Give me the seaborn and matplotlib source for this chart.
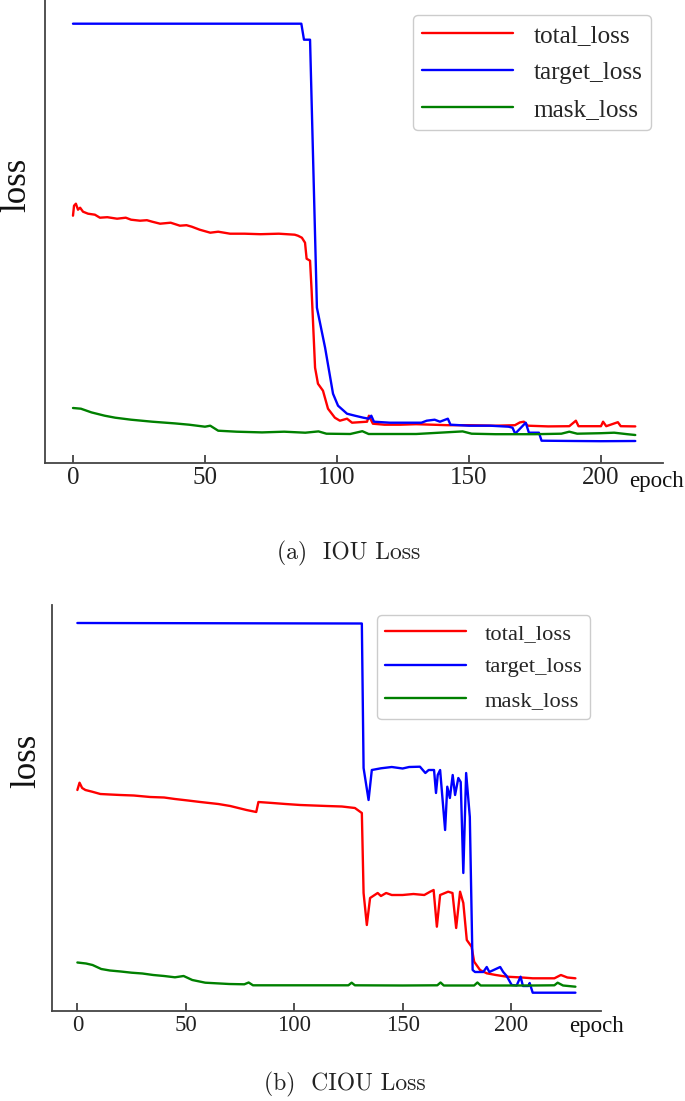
import matplotlib
matplotlib.use("Agg")
import matplotlib.pyplot as plt
import seaborn as sns
import pandas as pd

# ---------------- data: (a) IOU Loss ----------------
iou_target_epoch = [0, 86.5, 87.5, 89.8, 92.4, 95.5, 98.5, 100.4, 103.8, 106.8, 110, 112, 113, 114, 120, 126,
                    132, 134, 137, 139, 142, 143, 150, 158, 165, 166.5, 167.5, 171.5, 172.7, 176.5, 177.5,
                    190, 200, 213]
iou_target_loss = [4.39, 4.39, 4.23, 4.23, 1.55, 1.15, 0.69, 0.57, 0.49, 0.47, 0.45, 0.44, 0.47, 0.41, 0.40, 0.40,
                   0.40, 0.42, 0.43, 0.41, 0.44, 0.38, 0.37, 0.37, 0.36, 0.35, 0.29, 0.40, 0.30, 0.30, 0.22,
                   0.217, 0.215, 0.217]

iou_total_epoch = [0, 0.4, 1.1, 1.9, 2.7, 3.8, 5.7, 8.3, 10.2, 13, 16.7, 20, 22, 25.4, 28, 30, 33, 37, 40.5, 43,
                   45, 48, 52, 55, 59.5, 65, 71, 78, 84, 85.2, 86.7, 87.9, 88.5, 89.8, 90.4, 91.7, 92.8, 94.7,
                   96.6, 99.2, 101.1, 103.8, 105.7, 111.4, 112.1, 113.6, 118, 124, 130, 136, 142, 150, 160,
                   167.4, 169.3, 170.8, 172.3, 180, 188, 190.5, 191.5, 200, 200.8, 202, 206.4, 207.5, 213]
iou_total_loss = [2.47, 2.57, 2.59, 2.53, 2.55, 2.51, 2.49, 2.48, 2.45, 2.455, 2.44, 2.45, 2.43, 2.42, 2.425,
                  2.41, 2.39, 2.40, 2.37, 2.375, 2.36, 2.33, 2.30, 2.31, 2.29, 2.29, 2.285, 2.29, 2.28, 2.27,
                  2.25, 2.20, 2.04, 2.02, 1.72, 0.95, 0.79, 0.72, 0.54, 0.45, 0.42, 0.44, 0.40, 0.41, 0.47,
                  0.39, 0.38, 0.38, 0.385, 0.38, 0.375, 0.375, 0.37, 0.375, 0.403, 0.41, 0.37, 0.363, 0.365,
                  0.42, 0.365, 0.365, 0.41, 0.365, 0.405, 0.365, 0.363]

iou_mask_epoch = [0, 3, 7, 12, 16, 22, 26, 30, 38.6, 44, 50, 52, 55, 62, 71.6, 80, 88, 93, 96, 105, 109.6, 112,
                  130, 147.6, 151, 160, 175, 185, 188, 191, 200, 205, 210, 213]
iou_mask_loss = [0.547, 0.54, 0.503, 0.47, 0.45, 0.43, 0.42, 0.41, 0.393, 0.38, 0.36, 0.37, 0.32, 0.31, 0.303,
                 0.31, 0.30, 0.313, 0.29, 0.287, 0.315, 0.287, 0.287, 0.313, 0.29, 0.285, 0.285, 0.29, 0.31,
                 0.29, 0.295, 0.30, 0.285, 0.277]

# ---------------- data: (b) CIOU Loss ----------------
ciou_target_epoch = [0, 131.2, 132, 134.3, 135.8, 140, 145, 150, 153, 158, 160.5, 162, 164.5, 165.4, 166.2, 167.3,
                     169.6, 170.6, 171.8, 173.1, 174.2, 175.7, 176.8, 178, 179.3, 181, 182.3, 183.4, 187.2,
                     188.8, 190, 195, 196.4, 198, 200.3, 202.6, 204.4, 205.5, 208, 208.6, 210, 229.7]
ciou_target_loss = [3.88, 3.875, 2.43, 2.11, 2.41, 2.427, 2.44, 2.425, 2.44, 2.443, 2.38, 2.41, 2.41, 2.18, 2.36,
                    2.41, 1.81, 2.243, 2.13, 2.36, 2.16, 2.33, 2.29, 1.38, 2.38, 1.94, 0.41, 0.39, 0.39,
                    0.44, 0.39, 0.44, 0.39, 0.35, 0.26, 0.255, 0.343, 0.25, 0.25, 0.28, 0.183, 0.183]

ciou_total_epoch = [0, 1, 2.2, 3.7, 6.8, 10.6, 15, 19.8, 26, 33.6, 40, 45, 51, 56.7, 65, 70.5, 78, 82.5, 83.5,
                    90, 96, 102.8, 115, 122, 128, 131.2, 132, 133.5, 135, 138.5, 140, 142.4, 145, 150, 155,
                    160, 162.7, 164.3, 165.8, 167.3, 171, 173, 174.7, 176.5, 178, 179.6, 181.8, 183, 185.7,
                    188.8, 193, 198, 205, 210, 220, 223, 226, 229.7]
ciou_total_loss = [2.21, 2.283, 2.23, 2.21, 2.193, 2.17, 2.165, 2.16, 2.155, 2.14, 2.135, 2.12, 2.105, 2.09,
                   2.07, 2.05, 2.01, 1.99, 2.09, 2.08, 2.07, 2.06, 2.05, 2.045, 2.03, 1.98, 1.18, 0.86, 1.13,
                   1.18, 1.15, 1.18, 1.16, 1.16, 1.17, 1.16, 1.193, 1.21, 0.843, 1.16, 1.193, 1.18, 0.83,
                   1.193, 1.08, 0.71, 0.643, 0.493, 0.41, 0.377, 0.36, 0.343, 0.335, 0.327, 0.327, 0.36,
                   0.335, 0.327]

ciou_mask_epoch = [0, 4, 7, 11, 15, 20, 25, 30, 35, 40, 45, 49, 53, 59, 70, 77, 79, 81, 100, 125, 126.5, 128,
                   150, 166, 167.5, 169, 183, 184.5, 186, 200, 210, 220, 221.5, 224, 229.7]
ciou_mask_loss = [0.485, 0.475, 0.46, 0.42, 0.405, 0.395, 0.383, 0.375, 0.36, 0.35, 0.337, 0.35, 0.31, 0.283,
                  0.27, 0.267, 0.285, 0.257, 0.257, 0.257, 0.283, 0.257, 0.255, 0.257, 0.285, 0.255, 0.255,
                  0.285, 0.255, 0.255, 0.255, 0.257, 0.283, 0.255, 0.243]

series_names = ["total_loss", "target_loss", "mask_loss"]
series_colors = ["#ff0000", "#0000ff", "#008000"]
tick_values = [0, 50, 100, 150, 200]

# ---------------- style ----------------
sns.set_style("ticks")
plt.rcParams["font.family"] = ["Liberation Serif", "DejaVu Serif"]
plt.rcParams["axes.edgecolor"] = "#444444"

W, H = 685, 1101
fig = plt.figure(figsize=(W / 100, H / 100), dpi=100)


def fx(px):
    return px / W


def fy(py):
    return 1 - py / H


ax1 = fig.add_axes([fx(45), fy(462.7), fx(663) - fx(45), fy(0) - fy(462.7)])
ax2 = fig.add_axes([fx(52), fy(1011), fx(601) - fx(52), fy(605) - fy(1011)])

panels = [
    (ax1, [(iou_total_epoch, iou_total_loss), (iou_target_epoch, iou_target_loss), (iou_mask_epoch, iou_mask_loss)],
     (-10.6, 223.5), (0, 4.627), 18, 18.2, 3.6, 0.58, (651, 15)),
    (ax2, [(ciou_total_epoch, ciou_total_loss), (ciou_target_epoch, ciou_target_loss), (ciou_mask_epoch, ciou_mask_loss)],
     (-11.7, 241.5), (0, 4.06), 16.5, 16.2, 3.6, 0.58, (590, 615)),
]

for ax, data, xl, yl, tfs, lfs, hl, ls, anchor in panels:
    for (ep, val), name, col in zip(data, series_names, series_colors):
        df = pd.DataFrame({"epoch": ep, "loss": val})
        sns.lineplot(data=df, x="epoch", y="loss", color=col, linewidth=1.7, label=name, ax=ax,
                     estimator=None, sort=False)
    ax.set_xlim(*xl)
    ax.set_ylim(*yl)
    ax.set_xticks(tick_values)
    ax.set_yticks([])
    ax.set_xlabel("")
    ax.set_ylabel("")
    sns.despine(ax=ax)
    ax.spines["left"].set_linewidth(1.3)
    ax.spines["bottom"].set_linewidth(1.3)
    ax.tick_params(axis="x", direction="in", length=6, width=1.1, pad=3, labelsize=tfs, colors="#222222")
    leg = ax.legend(loc="upper right", bbox_to_anchor=(fx(anchor[0]), fy(anchor[1])),
                    bbox_transform=fig.transFigure, borderaxespad=0, fontsize=lfs, handlelength=hl,
                    handletextpad=0.8, labelspacing=ls, frameon=True, fancybox=True, framealpha=1,
                    borderpad=0.35)
    leg.get_frame().set_edgecolor("#cccccc")
    leg.get_frame().set_linewidth(1.0)

# axis labels as in reference
fig.text(fx(0), fy(185), "loss", rotation=90, ha="left", va="center", fontsize=25, color="#111111")
fig.text(fx(10), fy(761), "loss", rotation=90, ha="left", va="center", fontsize=25, color="#111111")
fig.text(fx(629), fy(481.5), "epoch", ha="left", va="center", fontsize=16.5, color="#111111")
fig.text(fx(569), fy(1026.5), "epoch", ha="left", va="center", fontsize=16.5, color="#111111")

# captions
fig.text(fx(349), fy(553), "(a)  IOU Loss", ha="center", va="center", fontsize=17, family="cmr10",
         color="#222222")
fig.text(fx(345), fy(1084), "(b)  CIOU Loss", ha="center", va="center", fontsize=17, family="cmr10",
         color="#222222")

fig.savefig("out.png", dpi=100)
